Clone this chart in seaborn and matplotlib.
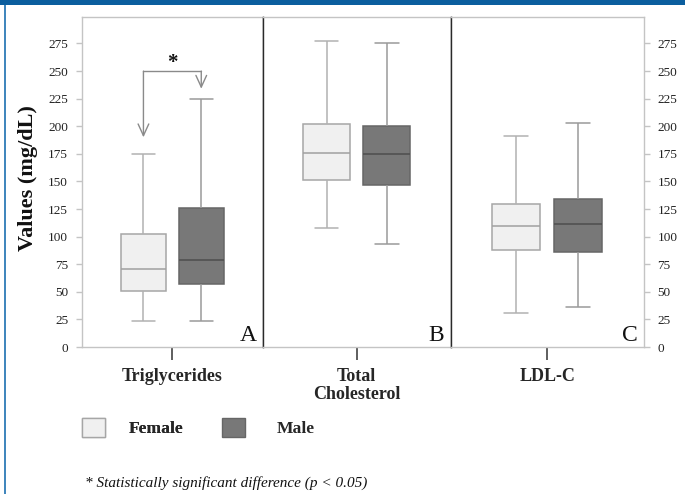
import numpy as np
import pandas as pd
import matplotlib
matplotlib.use("Agg")
import matplotlib.pyplot as plt
from matplotlib.patches import Patch, Rectangle
from matplotlib.lines import Line2D
import seaborn as sns

# Five-number summaries in mg/dL: lower whisker, Q1, median, Q3, upper whisker
female_tg = [24, 51, 71, 102, 175]
male_tg = [24, 57, 79, 126, 225]
female_tc = [108, 151, 176, 202, 277]
male_tc = [93, 147, 175, 200, 275]
female_ldl = [31, 88, 110, 130, 191]
male_ldl = [36, 86, 111, 134, 203]

lipids = ["Triglycerides", "Total\nCholesterol", "LDL-C"]
panel_letters = ["A", "B", "C"]
sexes = ["Female", "Male"]
y_ticks = [0, 25, 50, 75, 100, 125, 150, 175, 200, 225, 250, 275]

# Significance bracket for triglycerides (mg/dL)
bracket_top = 250
arrow_tip_female = 190
arrow_tip_male = 234

summaries = {
    ("Triglycerides", "Female"): female_tg,
    ("Triglycerides", "Male"): male_tg,
    ("Total\nCholesterol", "Female"): female_tc,
    ("Total\nCholesterol", "Male"): male_tc,
    ("LDL-C", "Female"): female_ldl,
    ("LDL-C", "Male"): male_ldl,
}
rows = []
for (lipid, sex), vals in summaries.items():
    for v in vals:
        rows.append({"lipid": lipid, "sex": sex, "value": v})
df = pd.DataFrame(rows)

sns.set_theme(style="white")
plt.rcParams["font.family"] = ["Liberation Serif", "DejaVu Serif"]

fills = {"Female": "#f0f0f0", "Male": "#787878"}
edges = {"Female": "#a6a6a6", "Male": "#666666"}
whisker_colors = {"Female": "#b2b2b2", "Male": "#9a9a9a"}
median_colors = {"Female": "#a0a0a0", "Male": "#4e4e4e"}
frame_gray = "#c4c4c4"
divider = "#2a2a2a"

W, H = 685, 494
fig = plt.figure(figsize=(W / 100, H / 100), dpi=100)
left, right = 82 / W, 643.7 / W
top, bottom = 1 - 17 / H, 1 - 347 / H
gs = fig.add_gridspec(1, 3, left=left, right=right, top=top, bottom=bottom,
                      wspace=0, width_ratios=[180.7, 188, 193])
axes = [fig.add_subplot(gs[0, i]) for i in range(3)]

box_width = 0.64
for i, (ax, lipid, letter) in enumerate(zip(axes, lipids, panel_letters)):
    sub = df[df["lipid"] == lipid]
    for sex in sexes:
        sns.boxplot(
            data=sub[sub["sex"] == sex], x="lipid", y="value",
            hue="sex", hue_order=sexes, order=[lipid], dodge=True,
            palette=fills, width=box_width, gap=0.22, whis=(0, 100),
            linewidth=1.1, linecolor=edges[sex], fliersize=0, legend=False,
            whiskerprops={"color": whisker_colors[sex]},
            capprops={"color": whisker_colors[sex]},
            medianprops={"color": median_colors[sex]},
            ax=ax,
        )
    ax.set_xlim(-0.5, 0.5)
    ax.set_ylim(0, 299)
    ax.set_xlabel("")
    ax.set_ylabel("")
    ax.set_yticks(y_ticks)
    for side in ["top", "bottom", "left", "right"]:
        ax.spines[side].set_visible(True)
        ax.spines[side].set_color(frame_gray)
        ax.spines[side].set_linewidth(1)
    ax.tick_params(axis="x", bottom=True, length=9, width=1.1, color="#333333",
                   pad=6, labelsize=13)
    for lab in ax.get_xticklabels():
        lab.set_fontweight("bold")
        lab.set_linespacing(1.1)
    ax.annotate(letter, xy=(1, 0), xycoords="axes fraction",
                xytext=(-4.5, 4.5), textcoords="offset points",
                ha="right", va="baseline", fontsize=17, color="#111111")

# panel dividers
axes[0].spines["right"].set_color(divider)
axes[1].spines["left"].set_color(divider)
axes[1].spines["right"].set_color(divider)
axes[2].spines["left"].set_color(divider)

axes[0].tick_params(axis="y", left=True, right=False, labelleft=True,
                    length=4.5, width=1, color=frame_gray, pad=5.5,
                    labelsize=9.5, labelcolor="#222222")
axes[1].tick_params(axis="y", left=False, right=False, labelleft=False)
axes[2].yaxis.tick_right()
axes[2].tick_params(axis="y", left=False, right=True, labelright=True,
                    labelleft=False, length=4.5, width=1, color=frame_gray,
                    pad=5.5, labelsize=9.5, labelcolor="#222222")

# significance bracket between female and male triglycerides
ax = axes[0]
offset = box_width / 4
bracket_gray = "#8a8a8a"
ax.plot([-offset, offset], [bracket_top, bracket_top], color=bracket_gray, lw=1)
arrow = dict(arrowstyle="->,head_length=0.7,head_width=0.32", color=bracket_gray,
             lw=1, shrinkA=0, shrinkB=0)
ax.annotate("", xy=(-offset, arrow_tip_female), xytext=(-offset, bracket_top),
            arrowprops=arrow)
ax.annotate("", xy=(offset, arrow_tip_male), xytext=(offset, bracket_top),
            arrowprops=arrow)
ax.text(0, bracket_top - 2, "*", ha="center", va="bottom", fontsize=15,
        fontweight="bold", color="#111111")

fig.text(28 / W, 1 - 178 / H, "Values (mg/dL)", rotation=90, ha="center",
         va="center", fontsize=16, fontweight="bold", color="#111111")

# legend entries placed one by one so each keeps its own spacing
legend_kw = dict(loc="upper left", frameon=False,
                 prop={"weight": "bold", "size": 12.6},
                 handlelength=1.3, handleheight=1.25,
                 borderpad=0, borderaxespad=0)
h_f = Patch(facecolor=fills["Female"], edgecolor=edges["Female"], linewidth=1)
h_m = Patch(facecolor=fills["Male"], edgecolor=edges["Male"], linewidth=1)
leg_f = fig.legend([h_f], ["Female"], bbox_to_anchor=(82 / W, 1 - 418 / H),
                   handletextpad=1.37, **legend_kw)
leg_m = fig.legend([h_m], ["Male"], bbox_to_anchor=(222 / W, 1 - 418 / H),
                   handletextpad=1.83, **legend_kw)
fig.add_artist(leg_f)

fig.text(85 / W, 1 - 483 / H, "* Statistically significant difference (p < 0.05)",
         style="italic", fontsize=11, va="center", color="#111111")

# page accents
fig.patches.append(Rectangle((0, 1 - 5 / H), 1, 5 / H, transform=fig.transFigure,
                             facecolor="#0b5e9e", edgecolor="none", zorder=10))
fig.lines.append(Line2D([4.5 / W, 4.5 / W], [0, 1], transform=fig.transFigure,
                        color="#1b6fb0", lw=1.2))

fig.savefig("out.png", dpi=100)
